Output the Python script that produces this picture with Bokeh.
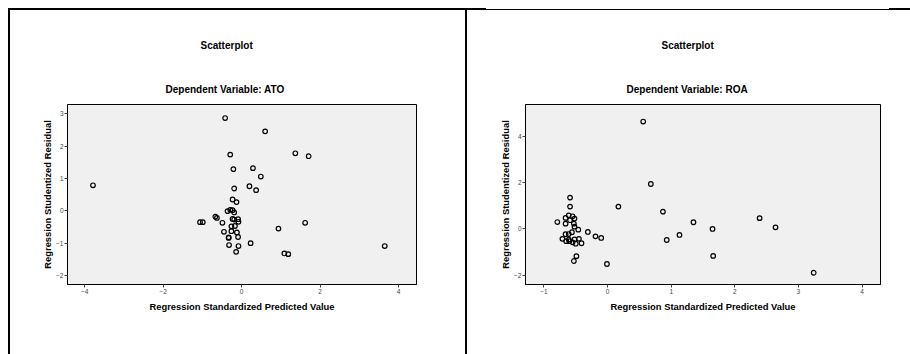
from bokeh.plotting import figure
from bokeh.models import Title, Range1d, Spacer
from bokeh.layouts import row, column
from bokeh.embed import file_html
from bokeh.resources import INLINE

# ---- data ----
ato_x = [-3.79, -0.42, 0.60, -0.29, 1.37, 1.71, 0.29, -0.21, 0.49, 0.20, 0.37, -0.19,
         -0.23, -0.13, -0.36, -0.29, -0.23, -0.19, -0.67, -0.63, -1.06, -0.99, -0.49,
         -0.23, -0.19, -0.09, -0.08, -0.17, -0.26, -0.45, -0.26, -0.12, -0.33, -0.33,
         -0.09, 0.23, -0.32, -0.08, -0.14, 0.94, 1.62, 1.09, 1.19, 3.65]
ato_y = [0.79, 2.87, 2.46, 1.74, 1.78, 1.69, 1.32, 1.29, 1.06, 0.76, 0.64, 0.69,
         0.35, 0.27, -0.01, 0.03, 0.02, -0.05, -0.18, -0.22, -0.35, -0.35, -0.37,
         -0.25, -0.27, -0.26, -0.34, -0.47, -0.48, -0.65, -0.63, -0.67, -0.82, -0.84,
         -0.81, -1.00, -1.06, -1.09, -1.27, -0.55, -0.37, -1.32, -1.34, -1.09]

roa_x = [-0.59, -0.59, -0.61, -0.66, -0.55, -0.52, -0.79, -0.66, -0.59, -0.53, -0.52,
         -0.46, -0.56, -0.61, -0.66, -0.31, -0.19, -0.10, -0.71, -0.65, -0.61, -0.60,
         -0.55, -0.50, -0.45, -0.41, -0.52, -0.49, -0.53, -0.01, 0.17, 0.56, 0.68,
         0.87, 1.35, 2.39, 2.64, 1.65, 1.13, 0.93, 1.66, 3.24]
roa_y = [1.36, 0.97, 0.59, 0.48, 0.55, 0.45, 0.30, 0.23, 0.38, 0.23, 0.10,
         -0.03, -0.14, -0.22, -0.23, -0.13, -0.32, -0.39, -0.43, -0.53, -0.46, -0.53,
         -0.58, -0.64, -0.43, -0.62, -0.45, -1.18, -1.39, -1.52, 0.97, 4.66, 1.95,
         0.75, 0.29, 0.47, 0.07, 0.00, -0.26, -0.48, -1.17, -1.90]

ato_xticks = [-4, -2, 0, 2, 4]
ato_yticks = [-2, -1, 0, 1, 2, 3]
roa_xticks = [-1, 0, 1, 2, 3, 4]
roa_yticks = [-2, 0, 2, 4]

chart_title = "Scatterplot"
ato_subtitle = "Dependent Variable: ATO"
roa_subtitle = "Dependent Variable: ROA"
x_label = "Regression Standardized Predicted Value"
y_label = "Regression Studentized Residual"

FONT = "Liberation Sans"
H = 344          # figure height (page y 10..354)
TOP = 94         # frame top inside figure
FH = 180         # frame height


def make_panel(xs, ys, subtitle, xr, yr, xt, yt, bl, fw, br, sub_off, sc_off):
    p = figure(frame_width=fw, frame_height=FH, x_range=Range1d(*xr), y_range=Range1d(*yr),
               output_backend="svg", toolbar_location=None, title=None,
               min_border_left=bl, min_border_right=br, min_border_top=TOP,
               min_border_bottom=H - TOP - FH, margin=0)
    p.background_fill_color = "#f0f0f0"
    p.border_fill_color = "white"
    p.outline_line_color = "black"
    p.outline_line_width = 1
    p.grid.visible = False

    sub = Title(text=subtitle, align="left", offset=sub_off, text_font=FONT,
                text_font_size="10px", text_font_style="bold", text_color="black",
                standoff=19)
    sc = Title(text=chart_title, align="left", offset=sc_off, text_font=FONT,
               text_font_size="10px", text_font_style="bold", text_color="black",
               standoff=44)
    p.add_layout(sub, "above")
    p.add_layout(sc, "above")

    for ax, ticks, lab in ((p.xaxis, xt, x_label), (p.yaxis, yt, y_label)):
        ax.ticker = ticks
        ax.axis_label = lab
        ax.axis_label_text_font = FONT
        ax.axis_label_text_font_size = "9.4px"
        ax.axis_label_text_font_style = "bold"
        ax.axis_label_text_color = "black"
        ax.major_label_text_font = FONT
        ax.major_label_text_font_size = "6.5px"
        ax.major_label_text_color = "#444444"
        ax.major_tick_in = 0
        ax.major_tick_out = 3
        ax.major_tick_line_color = "#444444"
        ax.minor_tick_line_color = None
        ax.axis_line_color = "black"
        ax.major_label_standoff = 1
    p.xaxis.axis_label_standoff = 4
    p.yaxis.axis_label_standoff = 0
    p.yaxis.major_label_orientation = "horizontal"

    p.scatter(xs, ys, marker="circle", size=4.6, fill_color=None,
              line_color="black", line_width=1.2)
    return p


p1 = make_panel(ato_x, ato_y, ato_subtitle, (-4.44, 4.46), (-2.28, 3.29),
                ato_xticks, ato_yticks, 57, 349, 49, 98, 133)
p2 = make_panel(roa_x, roa_y, roa_subtitle, (-1.29, 4.29), (-2.41, 5.40),
                roa_xticks, roa_yticks, 58, 355, 30, 101, 136)


def block(w, h, color="black"):
    return Spacer(width=w, height=h, margin=0, styles={"background-color": color})


thin = column(block(403, 1, "white"), block(403, 1), spacing=0, margin=0)
top_line = row(Spacer(width=8, height=2, margin=0), block(478, 2), thin, block(21, 2),
               spacing=0, margin=0)
body = row(Spacer(width=8, height=H, margin=0), block(2, H), p1, block(2, H), p2,
           spacing=0, margin=0)
layout = column(Spacer(width=910, height=8, margin=0), top_line, body, spacing=0, margin=0)

open("out.html", "w").write(file_html(layout, INLINE))
